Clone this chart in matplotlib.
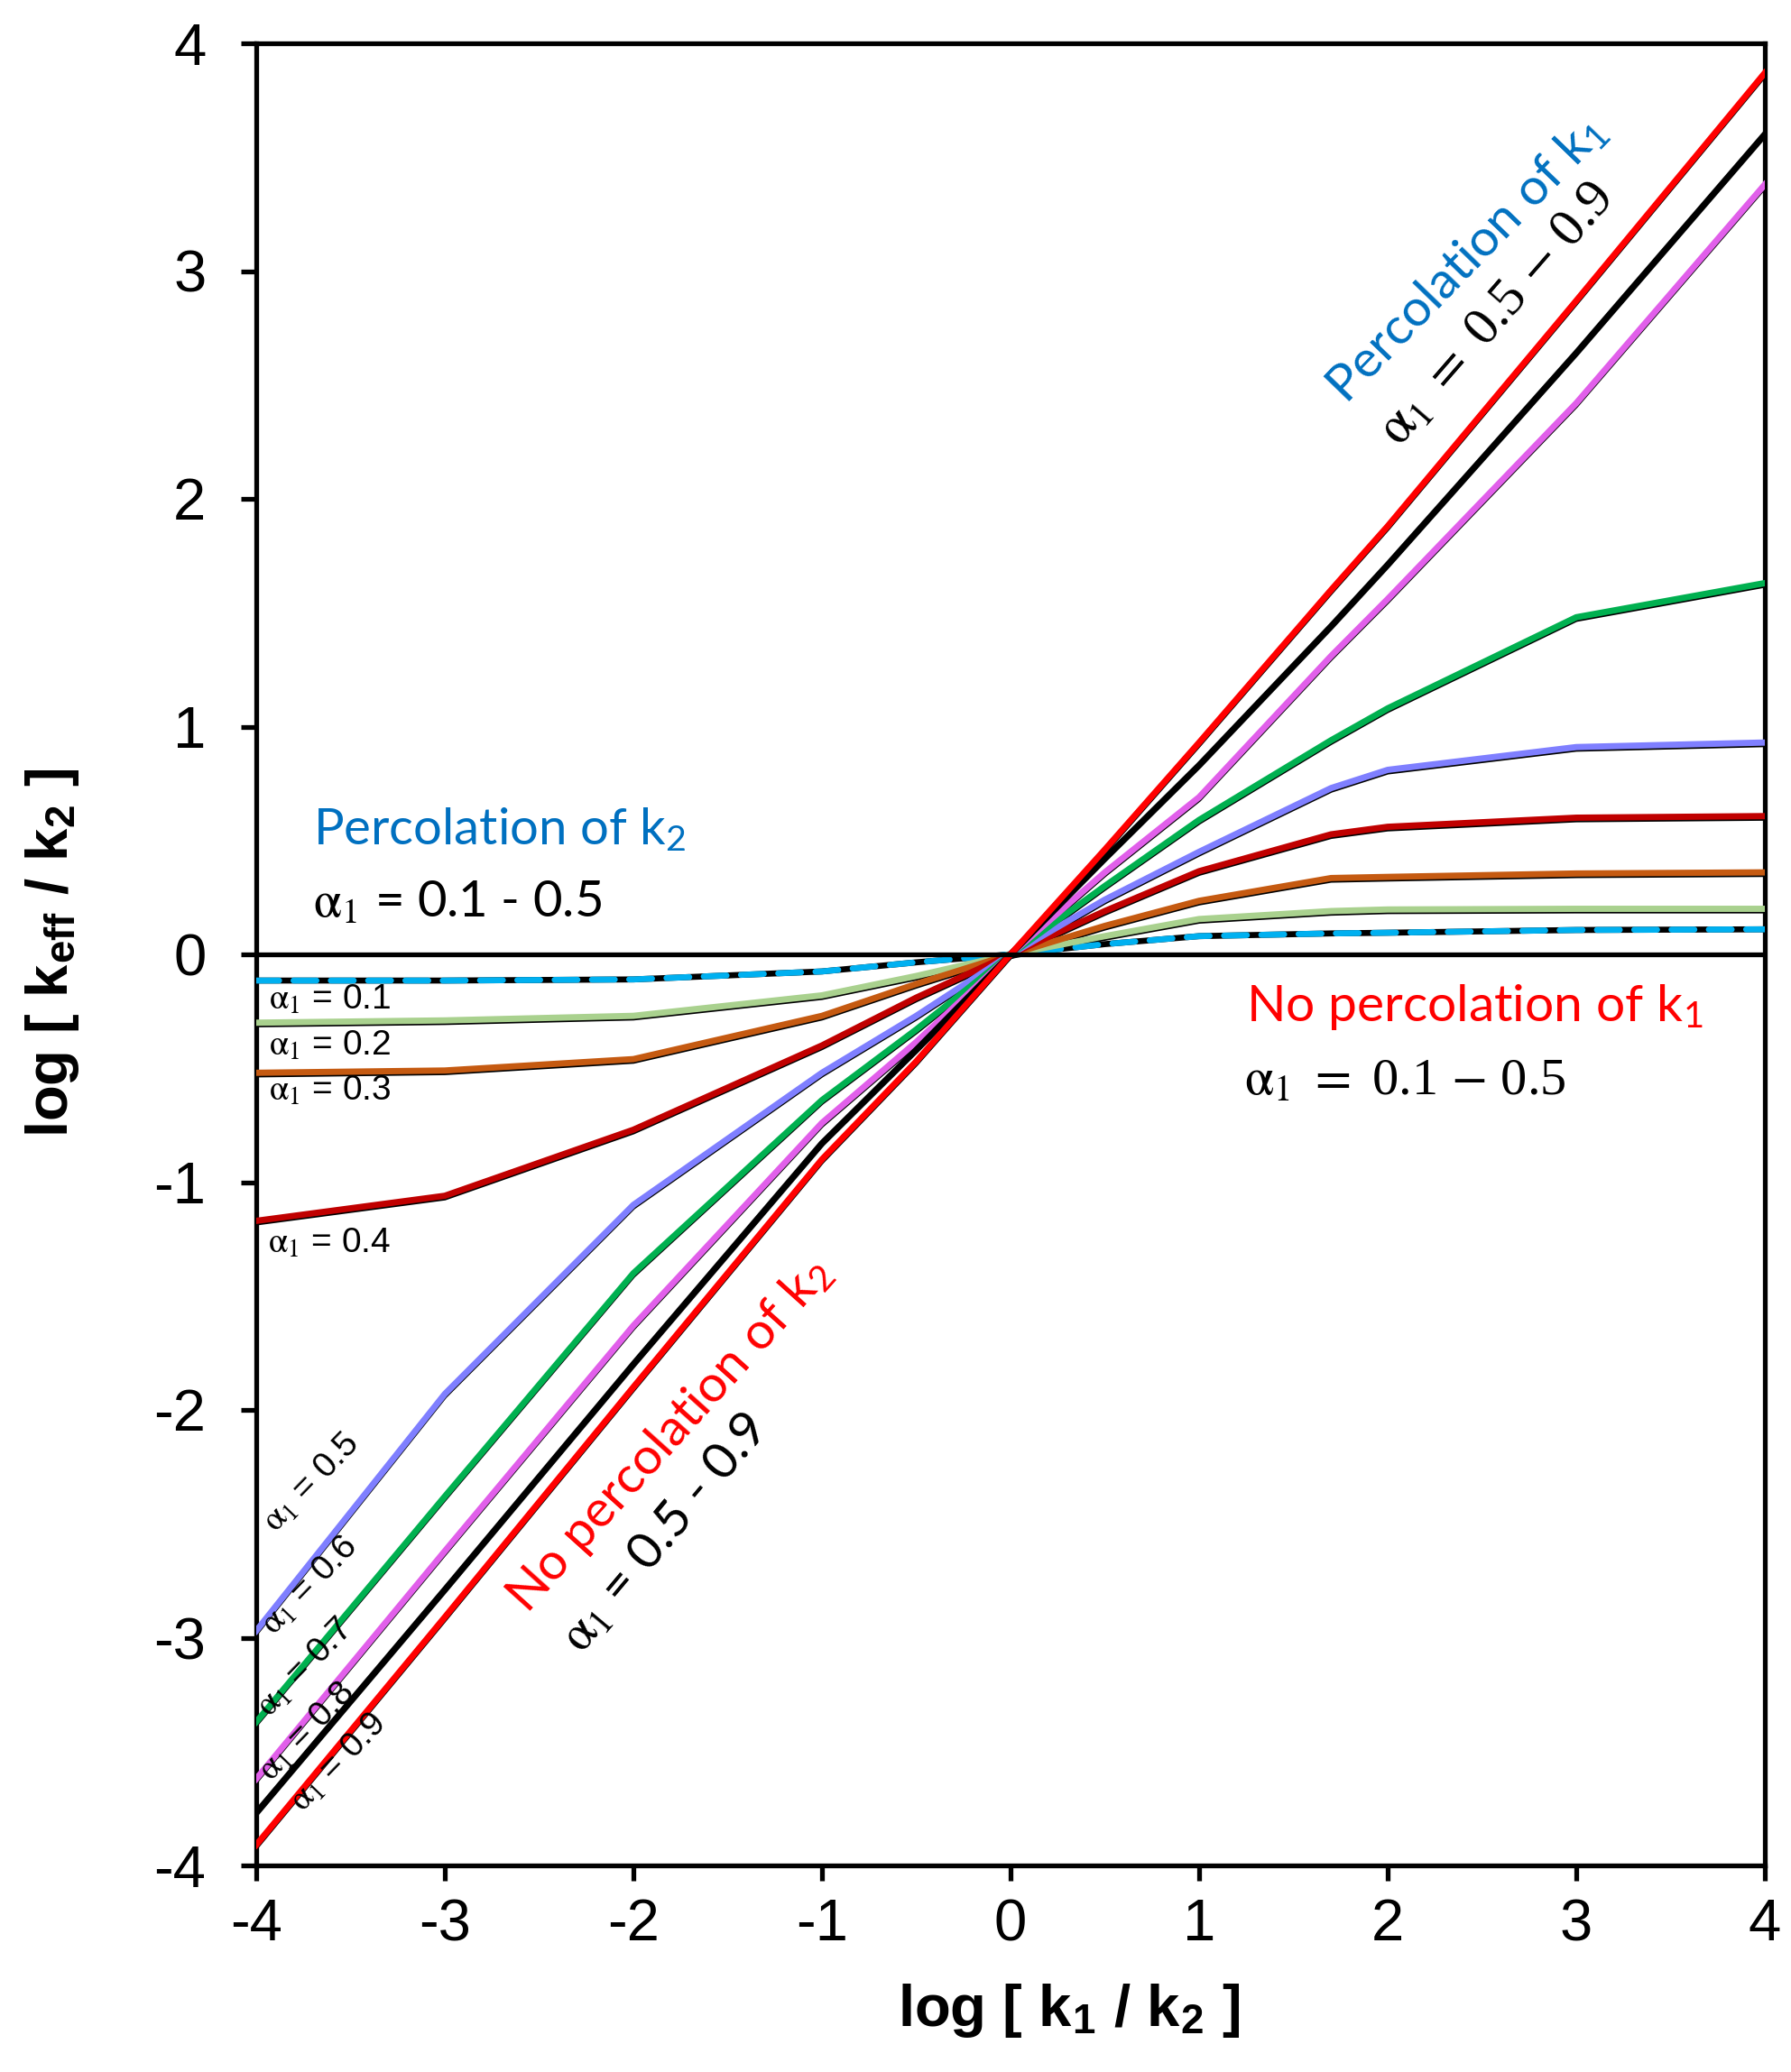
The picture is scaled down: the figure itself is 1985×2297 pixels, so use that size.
import matplotlib
matplotlib.use("Agg")
import matplotlib.pyplot as plt
from matplotlib.transforms import offset_copy

# ---------------- data ----------------
x_vals = [-4, -3, -2, -1, -0.5, 0, 0.5, 1, 1.7, 2, 3, 4]

alpha_labels = ["0.1", "0.2", "0.3", "0.4", "0.5", "0.6", "0.7", "0.8", "0.9"]

y_a01 = [-0.115, -0.115, -0.11, -0.075, -0.035, 0, 0.045, 0.08, 0.092, 0.095, 0.107, 0.11]
y_a02 = [-0.30, -0.29, -0.27, -0.18, -0.095, 0, 0.08, 0.155, 0.19, 0.197, 0.20, 0.20]
y_a03 = [-0.52, -0.51, -0.46, -0.27, -0.13, 0, 0.125, 0.235, 0.335, 0.34, 0.355, 0.36]
y_a04 = [-1.17, -1.06, -0.77, -0.40, -0.19, 0, 0.19, 0.365, 0.527, 0.56, 0.60, 0.607]
y_a05 = [-2.97, -1.93, -1.10, -0.52, -0.27, 0, 0.24, 0.45, 0.73, 0.81, 0.91, 0.93]
y_a06 = [-3.37, -2.38, -1.40, -0.64, -0.33, 0, 0.30, 0.59, 0.94, 1.08, 1.48, 1.63]
y_a07 = [-3.62, -2.62, -1.63, -0.74, -0.385, 0, 0.36, 0.69, 1.31, 1.56, 2.42, 3.38]
y_a08 = [-3.77, -2.79, -1.80, -0.83, -0.42, 0, 0.42, 0.83, 1.44, 1.71, 2.64, 3.60]
y_a09 = [-3.91, -2.91, -1.90, -0.90, -0.47, 0, 0.46, 0.93, 1.60, 1.88, 2.87, 3.87]

series = [y_a01, y_a02, y_a03, y_a04, y_a05, y_a06, y_a07, y_a08, y_a09]
colors = ["#00B0F0", "#A9D18E", "#C55A11", "#C00000", "#7F7FFF",
          "#00B050", "#E15FEA", "#000000", "#FF0000"]

ticks = [-4, -3, -2, -1, 0, 1, 2, 3, 4]

# ---------------- figure ----------------
W, H = 1985, 2297
fig = plt.figure(figsize=(W / 100, H / 100), dpi=100)
ax = fig.add_axes([284 / W, 1 - 2068 / H, (1956 - 284) / W, (2068 - 48) / H])

ax.set_xlim(-4, 4)
ax.set_ylim(-4, 4)
ax.set_xticks(ticks)
ax.set_yticks(ticks)
ax.set_xticklabels([str(t) for t in ticks])
ax.set_yticklabels([str(t) for t in ticks])
for sp in ax.spines.values():
    sp.set_linewidth(3.8)
ax.tick_params(direction="out", length=12, width=3.8, labelsize=47)
ax.tick_params(axis="x", pad=14)
ax.tick_params(axis="y", pad=28)
for lab in ax.get_xticklabels() + ax.get_yticklabels():
    lab.set_fontfamily("Liberation Sans")

ax.axhline(0, color="black", lw=3.8, zorder=4)

under = offset_copy(ax.transData, fig=fig, x=0, y=-2.5, units="dots")

for i, (ys, c) in enumerate(zip(series, colors)):
    if i == 0:
        ax.plot(x_vals, ys, color="black", lw=4.8, zorder=2, solid_capstyle="butt")
        ax.plot(x_vals, ys, color=c, lw=4.8, zorder=3, linestyle=(0, (3.8, 2.4)),
                dash_capstyle="round")
    elif c == "#000000":
        ax.plot(x_vals, ys, color="black", lw=5.2, zorder=3)
    else:
        ax.plot(x_vals, ys, color="black", lw=3.8, zorder=2, transform=under)
        ax.plot(x_vals, ys, color=c, lw=5.0, zorder=3)

# ---------------- texts ----------------
def ftext(x, y, s, **kw):
    kw.setdefault("math_fontfamily", "stix")
    return fig.text(x / W, 1 - y / H, s, **kw)

BLUE = "#0070C0"
RED = "#FF0000"
SANS = ["Lato", "DejaVu Sans"]
A1 = r"$\mathrm{\alpha}_1$"

# axis labels
ftext(1185, 2229, r"log [ k$_\mathregular{1}$ / k$_\mathregular{2}$ ]",
      fontsize=47, fontweight="bold", family="Liberation Sans",
      ha="center", va="center")
ftext(58, 1056, r"log [ k$_\mathregular{eff}$ / k$_\mathregular{2}$ ]",
      fontsize=47, fontweight="bold", family="Liberation Sans",
      ha="center", va="center", rotation=90)

# left-top annotation
ftext(347, 936, r"Percolation of k$_\mathregular{2}$", fontsize=40.5, family=SANS,
      color=BLUE, ha="left", va="baseline")
ftext(347, 1016, A1 + " = 0.1 - 0.5", fontsize=40.5, family=SANS,
      color="black", ha="left", va="baseline")

# right annotation
ftext(1381, 1132, r"No percolation of k$_\mathregular{1}$", fontsize=41, family=SANS,
      color=RED, ha="left", va="baseline")
ftext(1379, 1213, A1 + r" $=$ 0.1 $-$ 0.5", fontsize=42, family="Liberation Serif",
      color="black", ha="left", va="baseline")

# rotated upper annotation
ftext(1626, 288, r"Percolation of k$_\mathregular{1}$", fontsize=41, family=SANS,
      color=BLUE, ha="center", va="center", rotation=46, rotation_mode="anchor")
ftext(1660, 350, A1 + r" $=$ 0.5 $-$ 0.9", fontsize=43, family="Liberation Serif",
      color="black", ha="center", va="center", rotation=49, rotation_mode="anchor")

# rotated lower annotation
ftext(742, 1591, r"No percolation of k$_\mathregular{2}$", fontsize=41, family=SANS,
      color=RED, ha="center", va="center", rotation=48, rotation_mode="anchor")
ftext(737, 1699, A1 + " = 0.5 - 0.9", fontsize=41, family=SANS,
      color="black", ha="center", va="center", rotation=50, rotation_mode="anchor")

# small curve labels
small_pos_flat = [(298, 1109), (298, 1160), (298, 1210), (297, 1379)]
for (px, py), a in zip(small_pos_flat, alpha_labels[:4]):
    ftext(px, py, A1 + " = " + a, fontsize=28, family="Liberation Sans",
          ha="left", va="center")

small_pos_rot = [(346, 1644), (344, 1758), (339, 1849), (341, 1920), (376, 1954)]
for (px, py), a in zip(small_pos_rot, alpha_labels[4:]):
    ftext(px, py, A1 + " = " + a, fontsize=28, family="Liberation Sans",
          ha="center", va="center", rotation=46, rotation_mode="anchor")

fig.savefig("out.png", dpi=100, facecolor="white")
